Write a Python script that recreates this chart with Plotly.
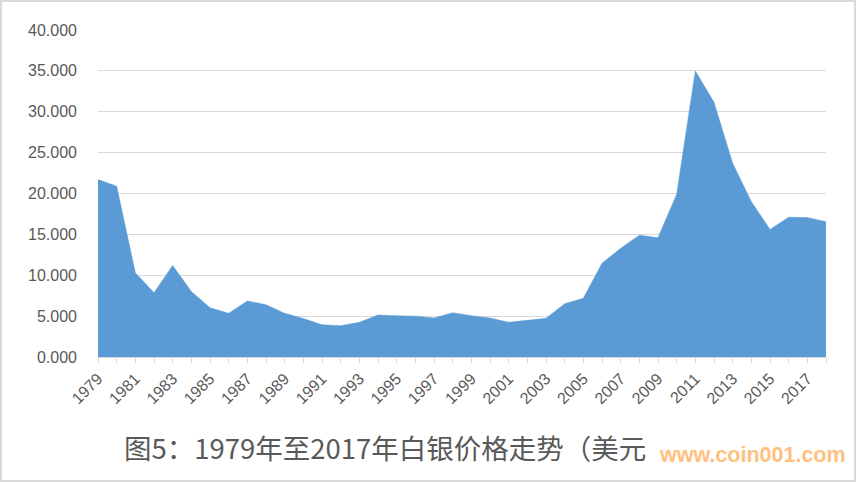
import plotly.graph_objects as go

years = list(range(1979, 2019))
prices = [21.7, 20.9, 10.3, 7.87, 11.2, 8.0, 6.03, 5.34, 6.85, 6.4,
          5.34, 4.7, 3.95, 3.83, 4.24, 5.14, 5.05, 5.0, 4.77, 5.42,
          5.05, 4.77, 4.24, 4.49, 4.73, 6.52, 7.18, 11.46, 13.3, 14.9,
          14.6, 19.9, 35.0, 31.15, 23.7, 19.0, 15.6, 17.1, 17.05, 16.55]
tick_text = [str(y) if y % 2 == 1 else "" for y in years]
y_ticks = [0, 5, 10, 15, 20, 25, 30, 35, 40]
title_text = "图5：1979年至2017年白银价格走势（美元"
watermark = "www.coin001.com"

fig = go.Figure()
fig.add_trace(go.Scatter(
    x=years, y=prices, mode="lines", fill="tozeroy",
    line=dict(color="#5B9BD5", width=0.5), fillcolor="#5B9BD5",
    hoverinfo="x+y", showlegend=False))

tick_font = dict(family="Liberation Sans, Arial, sans-serif", size=16, color="#595959")

fig.update_layout(
    width=856, height=482,
    margin=dict(l=98, r=30, t=30, b=125),
    paper_bgcolor="white", plot_bgcolor="white",
    xaxis=dict(range=[1979, 2018], tickmode="array", tickvals=years, ticktext=tick_text,
               tickangle=-45, tickfont=tick_font, showgrid=False,
               showline=True, linecolor="#d9d9d9", linewidth=1,
               ticks="outside", ticklen=5, tickcolor="#d9d9d9", zeroline=False,
               fixedrange=True),
    yaxis=dict(range=[0, 40], tickmode="array", tickvals=y_ticks,
               tickformat=".3f", tickfont=tick_font, showgrid=True,
               gridcolor="#d9d9d9", gridwidth=1, zeroline=False, showline=False,
               ticks="", ticklabelstandoff=20, fixedrange=True),
    shapes=[dict(type="rect", xref="paper", yref="paper", x0=-97/728, x1=1+29/728,
                 y0=-124/327, y1=1+29/327, line=dict(color="#d9d9d9", width=2),
                 fillcolor="rgba(0,0,0,0)", layer="below")],
    annotations=[
        dict(text=title_text, xref="paper", yref="paper",
             x=(122-98)/728, y=-(447-357)/327, xanchor="left", yanchor="middle",
             showarrow=False,
             font=dict(family="Noto Sans CJK SC, sans-serif", size=27.5, color="#595959")),
        dict(text="<b>" + watermark + "</b>", xref="paper", yref="paper",
             x=(657-98)/728, y=-(455-357)/327, xanchor="left", yanchor="middle",
             showarrow=False,
             font=dict(family="Liberation Sans, Arial, sans-serif", size=21.5, color="#FFC080")),
    ],
)

fig.write_html("out.html", config={"displayModeBar": False},
               post_script="document.body.style.margin='0';document.body.style.overflow='hidden';")
